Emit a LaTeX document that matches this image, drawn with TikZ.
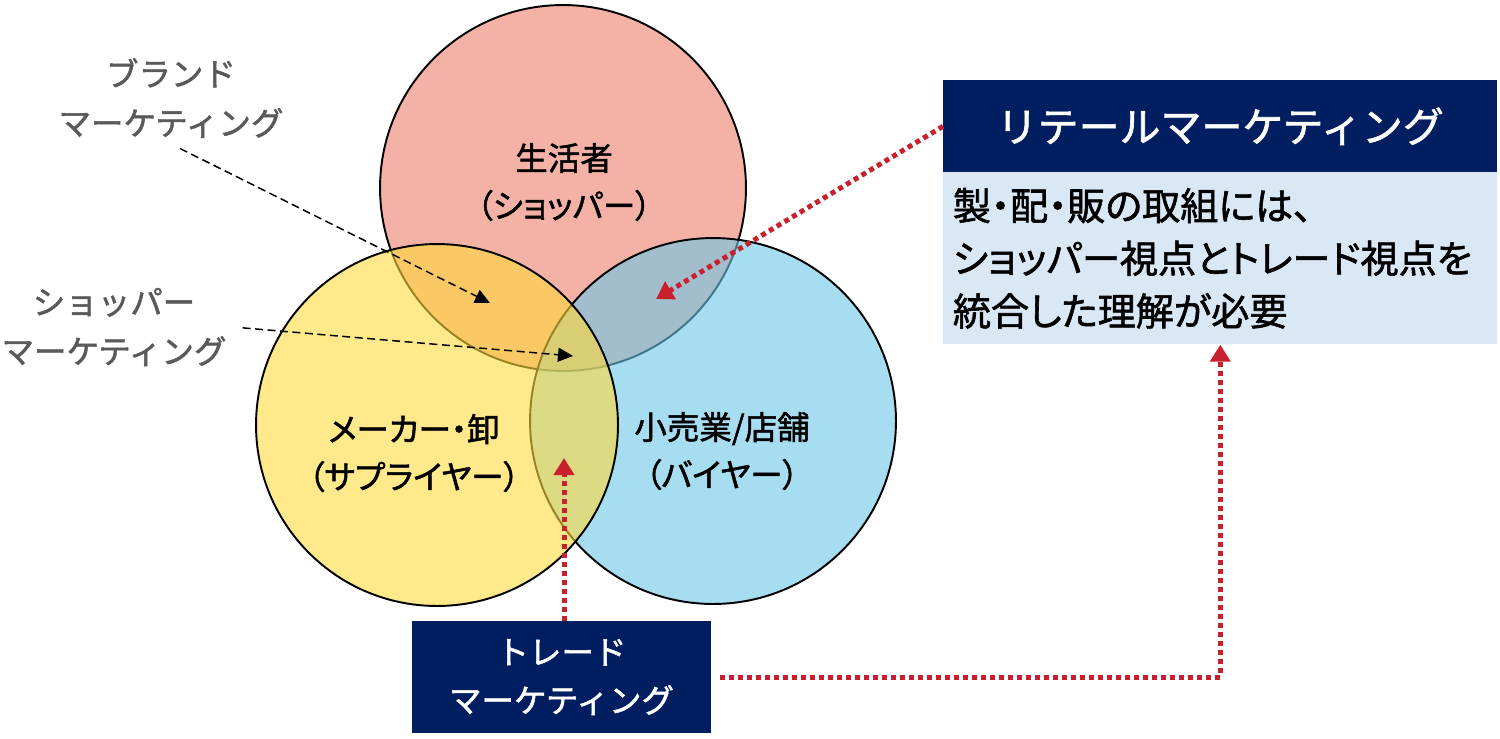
\documentclass[tikz,border=0pt]{standalone}
\usepackage{fontspec}
\setmainfont{Noto Sans CJK JP}[FakeBold=1.5]
\newfontfamily\paltfont{Noto Sans CJK JP}[RawFeature=+palt, FakeBold=1.5]
\usetikzlibrary{arrows.meta}

\definecolor{shopperpink}{RGB}{237,126,108}
\definecolor{supplieryellow}{RGB}{255,218,60}
\definecolor{buyerblue}{RGB}{108,198,230}
\definecolor{navy}{RGB}{0,30,96}
\definecolor{paleblue}{RGB}{218,232,246}
\definecolor{dotred}{RGB}{200,32,45}
\definecolor{labelgray}{RGB}{89,89,89}

\tikzset{venn/.style={circle, draw=black, line width=1.1pt, fill opacity=0.6, minimum size=7.32cm, inner sep=0pt}}

\begin{document}
\begin{tikzpicture}[x=0.02cm, y=-0.02cm,
	circletext/.style={align=center, font=\paltfont\fontsize{18.5}{27}\selectfont},
	sidelabel/.style={align=center, text=labelgray, font=\fontsize{18.5}{28}\selectfont},
	guide/.style={line width=0.85pt, dash pattern=on 0.16cm off 0.09cm, shorten <=0.2cm, -{Triangle[length=0.3cm, width=0.28cm]}},
	reddot/.style={dotred, line width=0.1cm, dash pattern=on 0.1cm off 0.08cm, -{Triangle[length=0.34cm, width=0.4cm]}}]
			\useasboundingbox (0,0) rectangle (1500,738);
			
			% Define circles
			\node[venn, fill=shopperpink] (shopper) at (563,188) {};
			\node[venn, fill=buyerblue] (buyer) at (713,421) {};
			\node[venn, fill=supplieryellow, minimum size=7.24cm] (supplier) at (437,425) {};
			
			% Circle texts
			\node[circletext] (shoppertext) at (564,182) {生活者\\（ショッパー）};
			\node[circletext] (suppliertext) at (414,453) {メーカー・卸\\（サプライヤー）};
			\node[circletext] (buyertext) at (722,451) {小売業/店舗\\（バイヤー）};
			
			% Side labels
			\node[sidelabel] (brandlabel) at (171,98) {ブランド\\マーケティング};
			\node[sidelabel] (shoplabel) at (114,327) {ショッパー\\マーケティング};
			
			% Boxes
			\node[fill=navy, text=white, anchor=north west, minimum width=11.08cm, minimum height=1.84cm, inner sep=0pt, font=\fontsize{23.3}{27}\selectfont] (retailhead) at (943,80) {リテールマーケティング};
			\node[fill=paleblue, anchor=north west, minimum width=11.08cm, minimum height=3.44cm, text width=10.7cm, inner xsep=0.19cm, inner ysep=0pt, align=left, font=\paltfont\fontsize{21.7}{30}\selectfont] (retailbody) at (943,172) {製・配・販の取組には、\\ショッパー視点とトレード視点を\\統合した理解が必要};
			\node[fill=navy, text=white, minimum width=5.98cm, minimum height=2.24cm, inner sep=0pt, align=center, font=\fontsize{18.5}{27.5}\selectfont] (trade) at (561.5,677) {トレード\\マーケティング};
			
			% Arrow tips in the overlaps
			\coordinate (brandtip) at (490,303);
			\coordinate (shoptip) at (573,356);
			\coordinate (retailtip) at (656,299);
			\coordinate (tradetip) at (564,458);
			
			% Dashed arrows
			\draw[guide] (brandlabel.south) -- (brandtip);
			\draw[guide] (shoplabel.east) -- (shoptip);
			
			% Red dotted arrows
			\draw[reddot] (retailhead.west) -- (retailtip);
			\draw[reddot] (trade.north -| tradetip) -- (tradetip);
			\draw[reddot, shorten <=0.18cm] (trade.east) -| (retailbody.south);
		\end{tikzpicture}
\end{document}
